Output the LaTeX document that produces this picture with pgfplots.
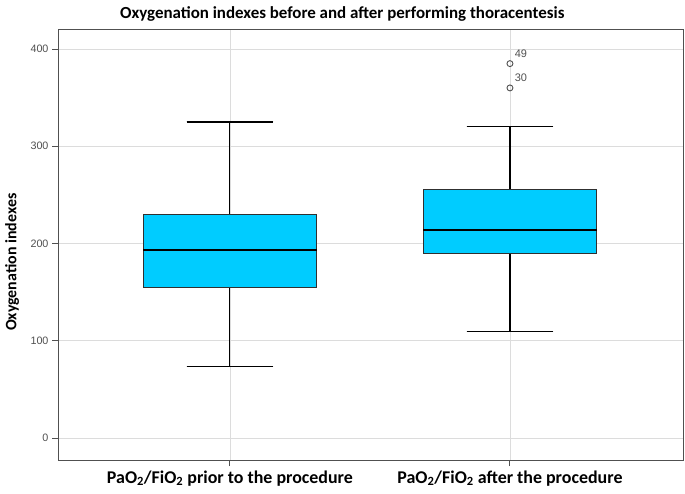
\documentclass[border=0pt]{standalone}
\usepackage{fontspec}
\setmainfont{Carlito}
\newfontfamily\arialf{Liberation Sans}
\usepackage{pgfplots}
\pgfplotsset{compat=1.18}
\usepgfplotslibrary{statistics}
\definecolor{boxcyan}{HTML}{00CCFF}
\definecolor{gridc}{HTML}{DCDCDC}
\definecolor{axc}{HTML}{505050}
\begin{document}
\begin{tikzpicture}[x=1bp,y=1bp]
\begin{axis}[
  scale only axis,
  width=625bp, height=431bp,
  xmin=0.386, xmax=2.618,
  ymin=-22.6, ymax=420.6,
  xtick={1,2},
  xticklabels={PaO\textsubscript{2}/FiO\textsubscript{2} prior to the procedure, PaO\textsubscript{2}/FiO\textsubscript{2} after the procedure},
  ytick={0,100,200,300,400},
  xtick pos=left, ytick pos=left,
  /pgf/number format/assume math mode=true,
  yticklabel style={font=\arialf\fontsize{10.8}{12}\selectfont, text=axc},
  xticklabel style={font=\bfseries\fontsize{18}{20}\selectfont, text=black, anchor=base, yshift=-17bp},
  tick align=outside,
  major tick length=6bp,
  tick style={axc, line width=1pt},
  axis line style={axc, line width=0.9pt},
  xmajorgrids, ymajorgrids,
  grid style={gridc, line width=0.6pt},
  ylabel={Oxygenation indexes},
  ylabel style={font=\bfseries\fontsize{16}{18}\selectfont, at={(axis description cs:-0.0736,0.459)}, anchor=center},
  title={Oxygenation indexes before and after performing thoracentesis},
  title style={font=\bfseries\fontsize{17}{19}\selectfont, at={(axis description cs:0.455,1)}, anchor=base, yshift=5bp},
  boxplot/draw direction=y,
]
\addplot+[boxplot prepared={median=193, upper quartile=230, lower quartile=155, upper whisker=325, lower whisker=74, draw position=1, box extend=0.62, whisker extend=0.31},
  fill=boxcyan, draw=axc!60!black, line width=0.8pt, solid, mark=none,
  boxplot/every median/.style={line width=2pt, black},
  boxplot/every whisker/.style={line width=1.1pt, black}]
  coordinates {};
\addplot+[boxplot prepared={median=214, upper quartile=256, lower quartile=190, upper whisker=320, lower whisker=110, draw position=2, box extend=0.62, whisker extend=0.31},
  fill=boxcyan, draw=axc!60!black, line width=0.8pt, solid,
  mark=o, mark options={draw=axc, fill=white, line width=0.9pt, scale=1.5},
  boxplot/every median/.style={line width=2pt, black},
  boxplot/every whisker/.style={line width=1.1pt, black}]
  table[row sep=\\, y index=0] {385\\ 360\\};
\node[font=\arialf\fontsize{11}{12}\selectfont, text=axc, anchor=west] at (axis cs:2.005,395) {49};
\node[font=\arialf\fontsize{11}{12}\selectfont, text=axc, anchor=west] at (axis cs:2.005,370) {30};
\end{axis}
\pgfresetboundingbox
\path[use as bounding box] ([xshift=-58bp,yshift=-34bp]current axis.south west) rectangle ([xshift=2bp,yshift=29bp]current axis.north east);
\end{tikzpicture}
\end{document}
